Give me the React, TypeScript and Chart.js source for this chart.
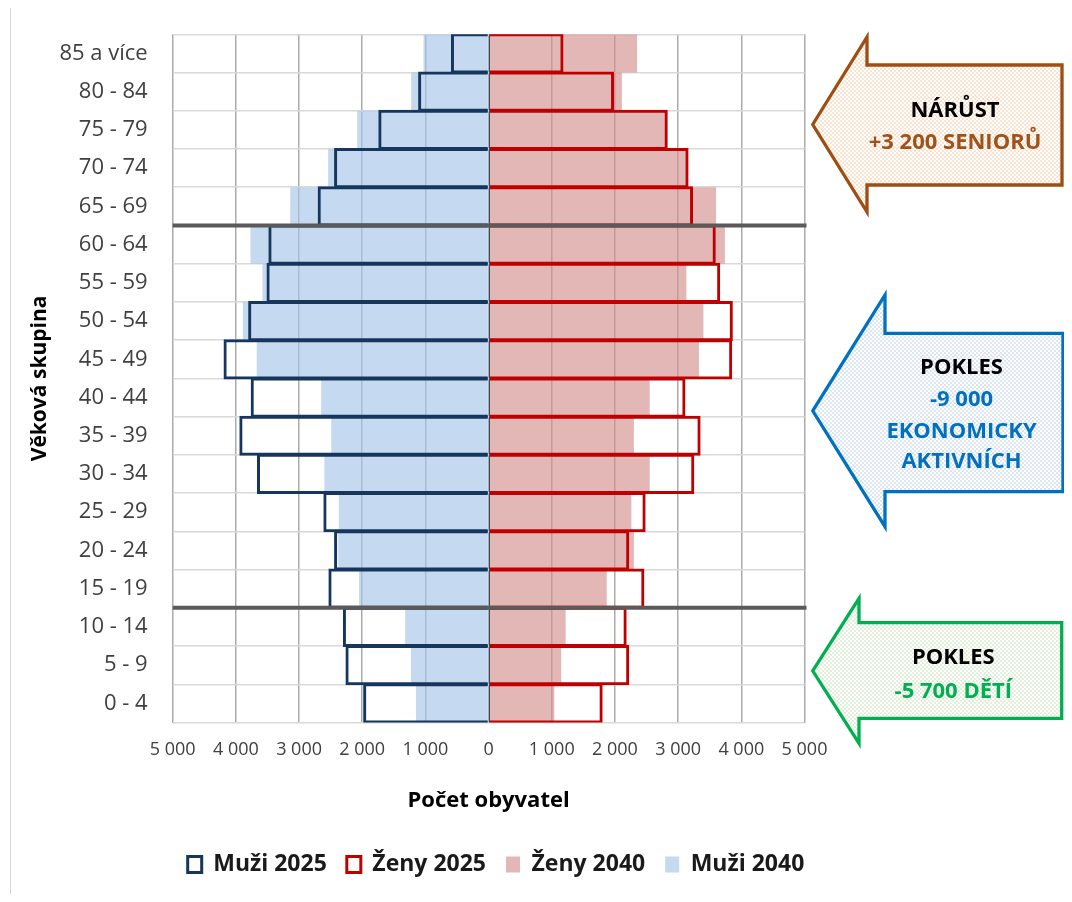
import React, { useEffect, useRef } from 'react';
import { Chart, registerables } from 'chart.js';

Chart.register(...registerables);

const FONT = "'Open Sans', sans-serif";
Chart.defaults.font.family = FONT;

// ---------- data ----------
const ageGroups = [
  '85 a více', '80 - 84', '75 - 79', '70 - 74', '65 - 69', '60 - 64',
  '55 - 59', '50 - 54', '45 - 49', '40 - 44', '35 - 39', '30 - 34',
  '25 - 29', '20 - 24', '15 - 19', '10 - 14', '5 - 9', '0 - 4',
];
const men2025 = [580, 1100, 1730, 2430, 2690, 3470, 3500, 3790, 4180, 3750, 3930, 3650, 2600, 2430, 2520, 2290, 2250, 1970];
const women2025 = [1170, 1970, 2820, 3150, 3220, 3580, 3650, 3850, 3840, 3100, 3340, 3240, 2470, 2210, 2450, 2170, 2210, 1790];
const men2040 = [1030, 1225, 2080, 2540, 3140, 3770, 3580, 3890, 3670, 2650, 2490, 2600, 2370, 2380, 2050, 1320, 1230, 1150];
const women2040 = [2350, 2110, 2800, 3150, 3600, 3740, 3130, 3400, 3330, 2550, 2300, 2550, 2260, 2300, 1870, 1220, 1150, 1040];
const xMin = -5000;
const xMax = 5000;
const xStep = 1000;
const separatorAfter = ['65 - 69', '15 - 19'];
const arrowTexts = [
  { lines: ['NÁRŮST', '+3 200 SENIORŮ'] },
  { lines: ['POKLES', '-9 000', 'EKONOMICKY', 'AKTIVNÍCH'] },
  { lines: ['POKLES', '-5 700 DĚTÍ'] },
];

// ---------- helpers ----------
const fmt = (v: number) => String(Math.abs(v)).replace(/\B(?=(\d{3})+(?!\d))/g, ' ');

function makePattern(ctx: CanvasRenderingContext2D, tint: string) {
  const c = document.createElement('canvas');
  c.width = 4;
  c.height = 4;
  const g = c.getContext('2d')!;
  g.fillStyle = '#ffffff';
  g.fillRect(0, 0, 4, 4);
  g.fillStyle = tint;
  g.fillRect(0, 0, 2, 2);
  g.fillRect(2, 2, 2, 2);
  return ctx.createPattern(c, 'repeat')!;
}

type ArrowGeom = {
  tipX: number; headX: number; right: number;
  headTop: number; shaftTop: number; shaftBottom: number; headBottom: number;
  stroke: string; tint: string; textColor: string; cx: number; baselines: number[];
};

const arrowGeoms: ArrowGeom[] = [
  { tipX: 804.7, headX: 859, right: 1054, headTop: 29, shaftTop: 57, shaftBottom: 177, headBottom: 204,
    stroke: '#9E4E12', tint: '#FCE3D0', textColor: '#A0521B', cx: 947, baselines: [109, 140.5] },
  { tipX: 804.7, headX: 877, right: 1055, headTop: 287, shaftTop: 325.3, shaftBottom: 483.7, headBottom: 518.7,
    stroke: '#0070C0', tint: '#DCE6F2', textColor: '#0070C0', cx: 953.5, baselines: [366, 398, 430, 460] },
  { tipX: 804.7, headX: 851, right: 1053.7, headTop: 590.3, shaftTop: 614.7, shaftBottom: 710.3, headBottom: 735.3,
    stroke: '#00B050', tint: '#E2F0D9', textColor: '#00B050', cx: 945.3, baselines: [656, 690] },
];

const overlayPlugin = {
  id: 'overlay',
  afterDatasetsDraw(chart: any) {
    const { ctx, scales } = chart;
    const x = scales.x;
    const y = scales.y;
    ctx.save();
    // zero line
    const x0 = Math.round(x.getPixelForValue(0)) + 0.5;
    ctx.strokeStyle = '#3B4A5C';
    ctx.lineWidth = 1;
    ctx.beginPath();
    ctx.moveTo(x0, y.top);
    ctx.lineTo(x0, y.bottom);
    ctx.stroke();
    // separators
    ctx.strokeStyle = '#5A5A5A';
    ctx.lineWidth = 4;
    for (const lab of separatorAfter) {
      const i = ageGroups.indexOf(lab);
      const py = (y.getPixelForValue(i) + y.getPixelForValue(i + 1)) / 2;
      ctx.beginPath();
      ctx.moveTo(x.getPixelForValue(xMin), py);
      ctx.lineTo(x.getPixelForValue(xMax) + 2, py);
      ctx.stroke();
    }
    ctx.restore();
  },
  afterDraw(chart: any) {
    const { ctx } = chart;
    ctx.save();
    arrowGeoms.forEach((a, k) => {
      const tipY = (a.headTop + a.headBottom) / 2;
      ctx.beginPath();
      ctx.moveTo(a.tipX, tipY);
      ctx.lineTo(a.headX, a.headTop);
      ctx.lineTo(a.headX, a.shaftTop);
      ctx.lineTo(a.right, a.shaftTop);
      ctx.lineTo(a.right, a.shaftBottom);
      ctx.lineTo(a.headX, a.shaftBottom);
      ctx.lineTo(a.headX, a.headBottom);
      ctx.closePath();
      ctx.fillStyle = makePattern(ctx, a.tint);
      ctx.fill();
      ctx.lineWidth = 3.3;
      ctx.lineJoin = 'miter';
      ctx.strokeStyle = a.stroke;
      ctx.stroke();
      ctx.font = `bold 22px ${FONT}`;
      ctx.textAlign = 'center';
      ctx.textBaseline = 'alphabetic';
      arrowTexts[k].lines.forEach((t, j) => {
        ctx.fillStyle = j === 0 ? '#000000' : a.textColor;
        ctx.fillText(t, a.cx, a.baselines[j]);
      });
    });
    ctx.restore();
  },
};

export default function App() {
  const ref = useRef<HTMLCanvasElement>(null);

  useEffect(() => {
    const chart = new Chart(ref.current!, {
      type: 'bar',
      data: {
        labels: ageGroups,
        datasets: [
          {
            label: 'Muži 2025',
            data: men2025.map((v) => -v),
            backgroundColor: 'rgba(255,255,255,0)',
            borderColor: '#17365D',
            borderWidth: 1,
            inflateAmount: 1,
            borderSkipped: 'start',
            order: 0,
          },
          {
            label: 'Ženy 2025',
            data: women2025,
            backgroundColor: 'rgba(255,255,255,0)',
            borderColor: '#C00000',
            borderWidth: 1,
            inflateAmount: 1,
            borderSkipped: 'start',
            order: 0,
          },
          {
            label: 'Ženy 2040',
            data: women2040,
            backgroundColor: 'rgba(214,144,144,0.65)',
            borderWidth: 0,
            inflateAmount: 0,
            order: 1,
          },
          {
            label: 'Muži 2040',
            data: men2040.map((v) => -v),
            backgroundColor: 'rgba(166,197,234,0.65)',
            borderWidth: 0,
            inflateAmount: 0,
            order: 1,
          },
        ] as any,
      },
      options: {
        indexAxis: 'y',
        responsive: false,
        animation: false,
        devicePixelRatio: 1,
        datasets: {
          bar: { grouped: false, barPercentage: 1, categoryPercentage: 1 },
        },
        layout: { padding: { left: 0, right: 80, top: 26.3, bottom: 8 } },
        scales: {
          x: {
            type: 'linear',
            min: xMin,
            max: xMax,
            ticks: {
              stepSize: xStep,
              padding: 17,
              color: '#404040',
              font: { size: 18, family: FONT },
              callback: (v: any) => fmt(Number(v)),
            },
            grid: {
              color: '#ABABAB',
              lineWidth: 1.5,
              drawTicks: false,
            },
            border: { display: false },
            title: {
              display: true,
              text: 'Počet obyvatel',
              color: '#000000',
              font: { size: 22, weight: 'bold', family: FONT },
              padding: { top: 0, bottom: 19.5 },
            },
            afterFit: (s: any) => { s.height = 110.5; },
          },
          y: {
            type: 'category',
            position: 'left',
            ticks: {
              padding: 25,
              color: '#404040',
              font: { size: 22, family: FONT },
            },
            grid: {
              color: '#D9D9D9',
              lineWidth: 1.5,
              drawTicks: false,
              offset: true,
            },
            border: { display: false },
            title: {
              display: true,
              text: 'Věková skupina',
              color: '#000000',
              font: { size: 21, weight: 'bold', family: FONT },
              padding: { top: 19, bottom: 0 },
            },
            afterFit: (s: any) => {
              s.width = 164.7;
              s.paddingTop = 0;
              s.paddingBottom = 0;
            },
          },
          yr: {
            type: 'category',
            position: 'right',
            labels: ageGroups,
            display: true,
            ticks: { display: false },
            grid: { display: false, drawTicks: false },
            border: { display: false },
            afterFit: (s: any) => {
              s.width = 179.5;
              s.paddingTop = 0;
              s.paddingBottom = 0;
            },
          },
        } as any,
        plugins: {
          legend: {
            position: 'bottom',
            labels: {
              color: '#1A1A1A',
              font: { size: 23, weight: 'bold', family: FONT },
              boxWidth: 14,
              boxHeight: 16,
              padding: 20,
              generateLabels: (chart: any) => {
                const items = Chart.defaults.plugins.legend.labels.generateLabels(chart);
                items.forEach((it: any) => {
                  const ds = chart.data.datasets[it.datasetIndex];
                  if (ds.borderWidth > 0) {
                    it.lineWidth = 3;
                    it.fillStyle = '#ffffff';
                  } else {
                    it.lineWidth = 0;
                  }
                });
                return items.sort((a: any, b: any) => a.datasetIndex - b.datasetIndex);
              },
            },
          },
          tooltip: { enabled: false },
        },
      },
      plugins: [overlayPlugin],
    });
    return () => chart.destroy();
  }, []);

  return (
    <div style={{ position: 'relative', width: 1056, height: 886 }}>
      <div
        style={{
          position: 'absolute', left: 2, top: -1, right: 0, bottom: 0,
          borderTop: '1px solid #D9D9D9', borderLeft: '1px solid #D9D9D9',
        }}
      />
      <canvas
        ref={ref}
        width={1056}
        height={886}
        style={{ position: 'absolute', left: 0, top: 0, width: 1056, height: 886 }}
      />
    </div>
  );
}
